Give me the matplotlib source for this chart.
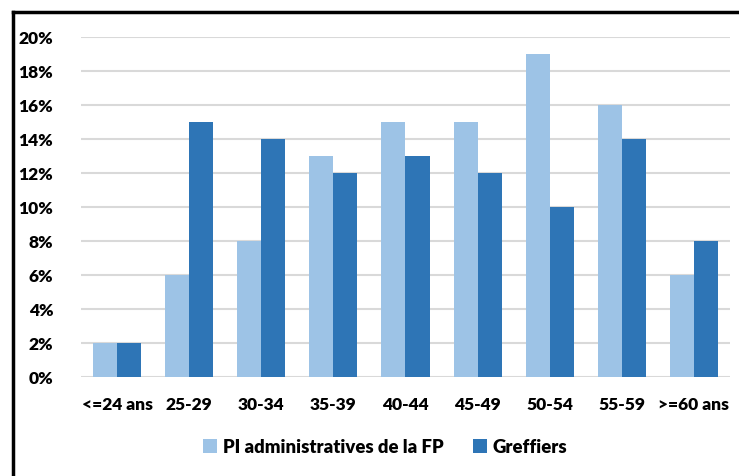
import matplotlib
matplotlib.use("Agg")
import matplotlib.pyplot as plt
from matplotlib.lines import Line2D
import numpy as np

categories = ["<=24 ans", "25-29", "30-34", "35-39", "40-44", "45-49", "50-54", "55-59", ">=60 ans"]
pi_admin = [2, 6, 8, 13, 15, 15, 19, 16, 6]
greffiers = [2, 15, 14, 12, 13, 12, 10, 14, 8]
yticks = [0, 2, 4, 6, 8, 10, 12, 14, 16, 18, 20]
series_names = ["PI administratives de la FP", "Greffiers"]

plt.rcParams['font.family'] = ['Lato', 'DejaVu Sans']
plt.rcParams['font.weight'] = 'heavy'
WEIGHT = 'heavy'

W, H = 739, 477
fig = plt.figure(figsize=(W/100, H/100), dpi=100)
ax = fig.add_axes([81/W, 1-378/H, (730-81)/W, (378-38)/H])

x = np.arange(len(categories))
bw = 1/3
ax.bar(x - bw/2, pi_admin, width=bw, color="#9DC3E6", label=series_names[0], zorder=3)
ax.bar(x + bw/2, greffiers, width=bw, color="#2E75B6", label=series_names[1], zorder=3)

ax.set_xlim(-0.5, len(categories)-0.5)
ax.set_ylim(0, 20)
ax.set_yticks(yticks)
ax.set_yticklabels([f"{v}%" for v in yticks])
ax.set_xticks(x)
ax.set_xticklabels(categories)
ax.tick_params(axis='both', length=0, labelsize=12.5)
ax.tick_params(axis='y', pad=20)
ax.tick_params(axis='x', pad=14)
for lab in ax.get_xticklabels() + ax.get_yticklabels():
    lab.set_fontweight(WEIGHT)
ax.grid(axis='y', color="#D9D9D9", linewidth=1.5, zorder=0)
for s in ax.spines.values():
    s.set_visible(False)

leg = fig.legend(loc='center', bbox_to_anchor=(385/W, 1-448/H), ncol=2, frameon=False,
                 prop={'weight': WEIGHT, 'size': 13.3}, handlelength=0.75, handleheight=0.75,
                 handletextpad=0.3, columnspacing=1.6)

fig.add_artist(Line2D([13/W, 13/W], [0, 1-13/H], transform=fig.transFigure, color='black', linewidth=2.5))
fig.add_artist(Line2D([13/W, 1], [1-13/H, 1-13/H], transform=fig.transFigure, color='black', linewidth=2.5))

fig.savefig("out.png", dpi=100)
